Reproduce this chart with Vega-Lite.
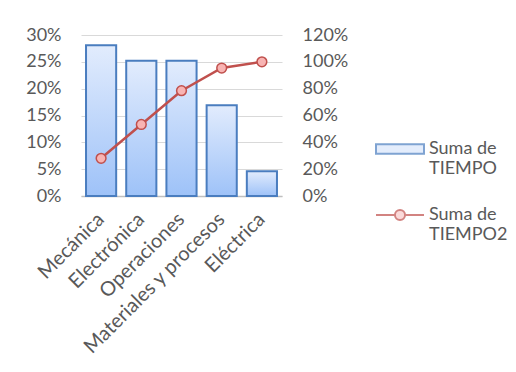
{
  "$schema": "https://vega.github.io/schema/vega-lite/v6.json",
  "width": 201,
  "height": 161,
  "autosize": "none",
  "padding": {"left": 81, "top": 35, "right": 234, "bottom": 176},
  "background": "white",
  "config": {
    "view": {"stroke": null},
    "font": "Lato",
    "axis": {"labelFont": "Lato", "labelFontSize": 18, "labelColor": "#595959", "ticks": false, "domain": false, "title": null}
  },
  "data": {
    "values": [
      {"categoria": "Mecánica", "tiempo": 0.281, "acumulado": 0.281},
      {"categoria": "Electrónica", "tiempo": 0.252, "acumulado": 0.533},
      {"categoria": "Operaciones", "tiempo": 0.252, "acumulado": 0.785},
      {"categoria": "Materiales y procesos", "tiempo": 0.169, "acumulado": 0.954},
      {"categoria": "Eléctrica", "tiempo": 0.046, "acumulado": 1.0}
    ]
  },
  "encoding": {
    "x": {
      "field": "categoria", "type": "nominal", "sort": null,
      "scale": {"paddingInner": 0.25, "paddingOuter": 0.125},
      "axis": {"labelAngle": -45, "labelAlign": "right", "labelBaseline": "middle", "labelPadding": 20, "labelFontSize": 20, "domain": true, "domainColor": "#bfbfbf", "domainWidth": 1.5, "labelLimit": 300}
    }
  },
  "layer": [
    {
      "mark": {
        "type": "bar",
        "color": {"gradient": "linear", "x1": 0, "y1": 0, "x2": 0, "y2": 1, "stops": [{"offset": 0, "color": "#e2ecfd"}, {"offset": 1, "color": "#9ec2f8"}]},
        "stroke": "#4a7dbf",
        "strokeWidth": 2
      },
      "encoding": {
        "y": {
          "field": "tiempo", "type": "quantitative",
          "scale": {"domain": [0, 0.3], "nice": false},
          "axis": {"orient": "left", "format": ".0%", "values": [0, 0.05, 0.1, 0.15, 0.2, 0.25, 0.3], "grid": true, "gridColor": "#d9d9d9", "labelPadding": 20}
        }
      }
    },
    {
      "encoding": {
        "y": {
          "field": "acumulado", "type": "quantitative",
          "scale": {"domain": [0, 1.2], "nice": false},
          "axis": {"orient": "right", "format": ".0%", "values": [0, 0.2, 0.4, 0.6, 0.8, 1.0, 1.2], "grid": false, "labelPadding": 20}
        }
      },
      "layer": [
        {"mark": {"type": "line", "color": "#c0504d", "strokeWidth": 2.5}},
        {"mark": {"type": "point", "filled": true, "fill": "#f8b4b3", "stroke": "#c0504d", "strokeWidth": 1.5, "size": 95, "opacity": 1}}
      ]
    },
    {
      "data": {"values": []},
      "mark": {"type": "point", "filled": true},
      "encoding": {
        "shape": {
          "field": "serie", "type": "nominal",
          "scale": {"domain": ["Suma de TIEMPO", "Suma de TIEMPO2"], "range": ["M-1,-0.2H1V0.2H-1Z", "M-1,0H-0.21M0.21,0H1M-0.21,0A0.21,0.21,0,1,1,0.21,0A0.21,0.21,0,1,1,-0.21,0Z"]},
          "legend": {
            "title": null, "orient": "none", "legendX": 294, "legendY": 89,
            "symbolSize": 2304, "symbolStrokeWidth": 2, "rowPadding": 12, "labelOffset": 4,
            "labelFont": "Lato", "labelFontSize": 18, "labelColor": "#595959", "labelLimit": 200, "labelBaseline": "middle",
            "labelExpr": "datum.label == 'Suma de TIEMPO' ? ['Suma de', 'TIEMPO'] : ['Suma de', 'TIEMPO2']",
            "encode": {"labels": {"update": {"lineHeight": {"value": 25}}}}
          }
        },
        "fill": {
          "field": "serie", "type": "nominal",
          "scale": {"domain": ["Suma de TIEMPO", "Suma de TIEMPO2"], "range": ["#c9dcfa", "#f8b4b3"]}
        },
        "stroke": {
          "field": "serie", "type": "nominal",
          "scale": {"domain": ["Suma de TIEMPO", "Suma de TIEMPO2"], "range": ["#4a7dbf", "#c0504d"]}
        }
      }
    }
  ],
  "resolve": {"scale": {"y": "independent"}}
}
